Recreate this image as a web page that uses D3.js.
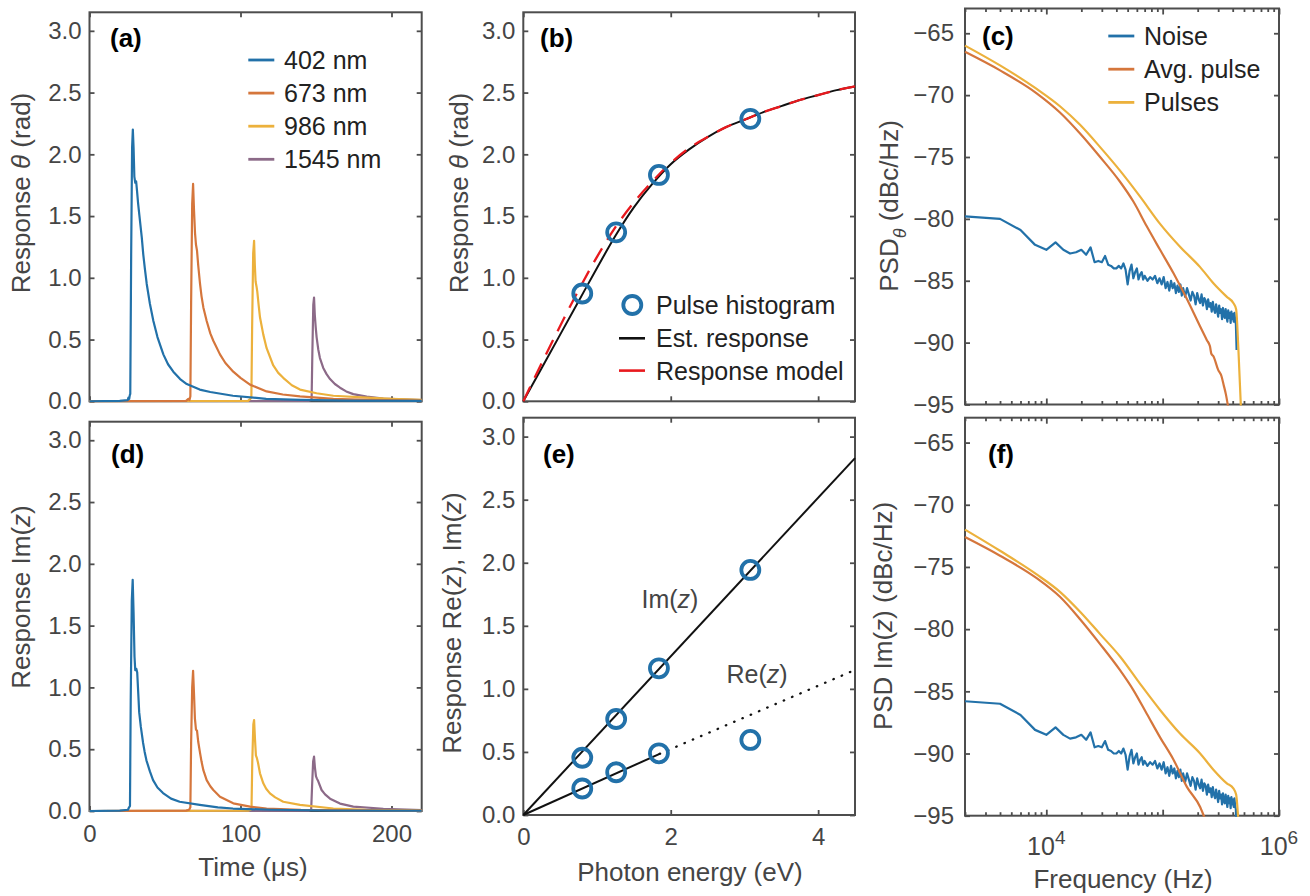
<!DOCTYPE html>
<html><head><meta charset="utf-8">
<script src="https://cdn.jsdelivr.net/npm/d3@7"></script>
<style>
body{margin:0;background:#fff}
svg{display:block}
text{font-family:"Liberation Sans",Arial,Helvetica,sans-serif}
</style>
</head><body>
<svg id="fig" width="1310" height="896"></svg>
<script>
// ---------------- DATA ----------------
const wavelengths = ["402 nm","673 nm","986 nm","1545 nm"];
const waveColors = ["#2271a9","#d5763c","#ecb13c","#8c6a88"];

// Panel (a): phase response theta (rad) vs time (us)
const thA402 = [[0,0],[20,0.003],[25.3,0.01],[25.8,0.03],[26.3,0.02],[26.7,0.05],[27.0,0.06],[27.6,1.2],[28.2,2.05],[28.7,2.2],[29.2,2.05],[29.7,1.82],[30.3,1.77],[30.9,1.78],[31.5,1.7],[32.2,1.6],[33.0,1.51],[34.6,1.33],[35.6,1.19],[36.7,1.07],[37.9,0.95],[40,0.79],[42.3,0.65],[45,0.52],[48.9,0.38],[52,0.3],[55.5,0.24],[60,0.18],[64.4,0.14],[73,0.095],[80,0.075],[95,0.045],[117,0.02],[140,0.012],[170,0.006],[220,0.003]];
const thA673 = [[0,0],[64,0.003],[65.5,0.02],[66.2,0.01],[66.8,0.04],[67.3,0.8],[68.0,1.6],[68.6,1.76],[69.2,1.55],[69.9,1.36],[70.5,1.27],[71.2,1.22],[72,1.1],[73.2,0.95],[74.2,0.85],[75.4,0.76],[77.6,0.65],[80,0.55],[82,0.49],[86.4,0.38],[90,0.31],[95.2,0.24],[100,0.19],[106.3,0.135],[117.3,0.08],[128,0.055],[139.4,0.04],[161.5,0.02],[190,0.01],[220,0.005]];
const thA986 = [[0,0],[105,0.003],[106.5,0.02],[107.2,0.03],[107.7,0.6],[108.4,1.2],[109,1.3],[109.5,1.1],[110,0.97],[110.6,0.93],[111.1,0.89],[112,0.78],[112.9,0.68],[115.1,0.54],[117.3,0.43],[121.7,0.29],[125,0.23],[128.3,0.19],[134,0.13],[139.4,0.095],[150.4,0.065],[161.5,0.045],[183.6,0.03],[200,0.02],[220,0.012]];
const thA1545 = [[0,0],[145,0.003],[146.5,0.01],[147.1,0.02],[147.6,0.4],[148.2,0.78],[148.7,0.84],[149.2,0.7],[149.8,0.6],[150.4,0.52],[151.5,0.42],[152.6,0.35],[154.8,0.27],[157,0.22],[159.3,0.18],[162.5,0.14],[165.9,0.11],[170,0.08],[174.7,0.058],[183.6,0.038],[194.6,0.022],[207,0.015],[220,0.01]];

// Panel (d): Im(z) response vs time (us)
const imA402 = [[0,0],[20,0.003],[25.5,0.01],[26.2,0.03],[26.8,0.04],[27.3,0.9],[28.0,1.7],[28.6,1.87],[29.2,1.6],[29.8,1.25],[30.3,1.14],[31.0,1.15],[31.6,1.12],[32.3,0.95],[32.9,0.8],[34,0.68],[35.5,0.55],[36.5,0.48],[37.7,0.41],[40,0.32],[42.1,0.25],[45,0.19],[48.7,0.145],[54,0.1],[59.7,0.075],[73,0.05],[85,0.03],[95,0.02],[120,0.01],[160,0.004],[220,0.002]];
const imA673 = [[0,0],[64,0.003],[66,0.01],[66.8,0.03],[67.3,0.55],[68,1.0],[68.6,1.135],[69.2,0.95],[69.8,0.75],[70.5,0.66],[71.2,0.65],[72,0.56],[73.2,0.47],[74.2,0.4],[75.4,0.33],[77.6,0.25],[80,0.2],[82,0.17],[86.4,0.116],[95.2,0.062],[106.3,0.035],[117.3,0.02],[140,0.01],[170,0.005],[220,0.002]];
const imA986 = [[0,0],[105,0.003],[106.8,0.01],[107.3,0.03],[107.8,0.4],[108.5,0.7],[109,0.736],[109.6,0.58],[110.2,0.45],[110.8,0.43],[111.6,0.39],[112.9,0.305],[115.1,0.224],[117,0.18],[119.5,0.143],[123,0.11],[128.3,0.075],[139.4,0.049],[161.5,0.02],[183,0.01],[220,0.004]];
const imA1545 = [[0,0],[145,0.002],[146.8,0.01],[147.4,0.2],[148.1,0.4],[148.7,0.44],[149.3,0.35],[150,0.28],[150.7,0.26],[151.5,0.24],[153.7,0.17],[156,0.135],[159.3,0.1],[165.9,0.06],[174.7,0.035],[194.6,0.018],[220,0.008]];

// Panel (b): response vs photon energy
const photonEnergy = [0.80, 1.26, 1.84, 3.08];
const thetaHist = [0.873, 1.368, 1.833, 2.287];
const curveE = [0,0.25,0.5,0.75,1,1.25,1.5,1.75,2,2.25,2.5,2.75,3,3.25,3.5,3.75,4,4.25,4.5];
const estTheta = [0,0.27,0.54,0.81,1.08,1.34,1.57,1.76,1.92,2.04,2.14,2.22,2.28,2.34,2.39,2.44,2.48,2.52,2.55];
const modelTheta = [0,0.31,0.61,0.9,1.17,1.41,1.61,1.78,1.93,2.05,2.14,2.22,2.28,2.34,2.39,2.44,2.48,2.52,2.55];

// Panel (e): Re(z), Im(z) vs photon energy
const imHist = [0.454, 0.761, 1.163, 1.943];
const reHist = [0.21, 0.339, 0.489, 0.595];
const imFitE = [0, 4.5], imFitV = [0, 2.83];
const reFitE = [0, 1.85], reFitV = [0, 0.485];
const reExtE = [1.85, 4.5], reExtV = [0.485, 1.15];

// Panels (c),(f): PSD vs frequency (Hz)
const psdNames = ["Noise","Avg. pulse","Pulses"];
const psdColors = ["#2271a9","#d5763c","#ecb13c"];
const noiseFreqKHz = [2,4,6,8,10,12,14,16,18,20,22,24,26,28,30,32,34,36,38,40,42,44,46,48,50,52,54,56,58,60,62,64,66,68,70,
  74,78,82,86,90,94,98,102,106,110,114,118,122,126,130,134,138,142,146,150,
  156,162,168,174,180,186,192,198,204,210,216,222,228,234,240,246,252,258,264,270,276,282,288,294,300,306,312,318,324,330,336,342,348,354,360,366,372,378,384,390,396,402,408,414,420,426,432];
const noiseTheta = [-79.8,-80.0,-80.9,-82.1,-82.5,-81.9,-82.5,-82.8,-82.7,-82.5,-82.9,-82.3,-83.5,-83.4,-83.5,-83.0,-83.7,-83.8,-84.0,-84.0,-83.8,-84.0,-83.6,-84.1,-85.3,-84.2,-83.7,-84.8,-84.3,-84.0,-84.9,-84.5,-84.3,-84.9,-84.6,
  -85.0,-84.7,-84.9,-84.6,-85.2,-84.8,-85.3,-84.7,-85.6,-85.1,-85.8,-85.0,-85.6,-85.2,-86.0,-85.4,-85.9,-85.3,-86.2,-85.6,
  -86.3,-85.6,-86.1,-86.6,-85.9,-86.2,-86.9,-86.0,-86.5,-86.8,-86.1,-87.0,-86.4,-86.6,-87.3,-86.5,-87.1,-86.8,-87.5,-86.7,-87.3,-87.6,-86.9,-87.4,-87.9,-87.0,-87.6,-87.3,-88.1,-87.2,-87.8,-88.0,-87.3,-87.9,-88.3,-87.4,-88.0,-87.6,-88.4,-87.5,-88.1,-87.7,-88.3,-87.6,-88.2,-88.5,-90.6];
const noiseIm = [-85.8,-86.0,-86.9,-88.1,-88.5,-87.9,-88.5,-88.8,-88.7,-88.5,-88.9,-88.3,-89.5,-89.4,-89.5,-89.0,-89.7,-89.8,-90.0,-90.0,-89.8,-90.0,-89.6,-90.1,-91.3,-90.2,-89.7,-90.8,-90.3,-90.0,-90.9,-90.5,-90.3,-90.9,-90.6,
  -91.0,-90.7,-90.9,-90.6,-91.2,-90.8,-91.3,-90.7,-91.6,-91.1,-91.8,-91.0,-91.6,-91.2,-92.0,-91.4,-91.9,-91.3,-92.2,-91.6,
  -92.3,-91.6,-92.1,-92.6,-91.9,-92.2,-92.9,-92.0,-92.5,-92.8,-92.1,-93.0,-92.4,-92.6,-93.3,-92.5,-93.1,-92.8,-93.5,-92.7,-93.3,-93.6,-92.9,-93.4,-93.9,-93.0,-93.6,-93.3,-94.1,-93.2,-93.8,-94.0,-93.3,-93.9,-94.3,-93.4,-94.0,-93.6,-94.4,-93.5,-94.1,-93.7,-94.3,-93.6,-94.2,-94.5,-96.5];
const avgTheta = [[2000,-66.5],[4000,-68.0],[8260,-69.85],[13100,-71.4],[19500,-73.1],[29000,-75.0],[43000,-77.0],[56000,-78.6],[73000,-80.6],[95000,-82.5],[124000,-84.4],[162000,-86.5],[210000,-88.7],[240000,-89.8],[255000,-90.3],[262000,-90.9],[273000,-91.1],[300000,-92.2],[320000,-92.7],[334000,-93.4],[350000,-94.2],[367000,-95.3]];
const pulsesTheta = [[2000,-66.0],[4000,-67.6],[8260,-69.5],[13100,-70.9],[19500,-72.4],[29000,-74.2],[43000,-76.1],[64000,-78.2],[95000,-80.4],[141000,-82.25],[210000,-83.9],[273000,-85.2],[356000,-86.3],[405000,-86.8],[428000,-87.3],[448000,-90.6],[472000,-95.5]];
const avgIm = [[2000,-72.6],[4000,-74.1],[8260,-75.9],[13100,-77.4],[19500,-79.2],[29000,-81.2],[43000,-83.3],[56000,-84.9],[73000,-86.8],[95000,-88.7],[124000,-90.5],[162000,-92.7],[210000,-94.3],[232000,-95.3]];
const pulsesIm = [[2000,-72.0],[4000,-73.7],[8260,-75.6],[13100,-77.0],[19500,-78.6],[29000,-80.4],[43000,-82.2],[64000,-84.4],[95000,-86.5],[141000,-88.4],[210000,-90.0],[273000,-91.3],[356000,-92.4],[405000,-92.8],[428000,-93.3],[448000,-95.5]];

const linTicks = [0,0.5,1,1.5,2,2.5,3];
const timeTicks = [0,100,200];
const energyTicks = [0,2,4];
const psdTicks = [-95,-90,-85,-80,-75,-70,-65];

// ---------------- DRAW ----------------
const svg = d3.select("#fig");
const FRAME = "#4d4d4d", TXT = "#454545";
const G = {
  a:{l:89.5,r:421.7,t:12.3,b:401.3},
  b:{l:523.3,r:855,t:12.3,b:401.3},
  c:{l:965,r:1279,t:8.5,b:404.5},
  d:{l:89.5,r:421.7,t:421.7,b:811},
  e:{l:523.3,r:855,t:417.7,b:815},
  f:{l:965,r:1279,t:417.7,b:815.7}
};

function styleAxis(g, fs){
  g.select(".domain").remove();
  g.selectAll(".tick line").attr("stroke",FRAME).attr("stroke-width",1.8);
  g.selectAll(".tick text").attr("fill",TXT).style("font-size",fs+"px").attr("font-family",null);
}

function axes(key, xs, ys, o){
  const p = G[key];
  const gl = svg.append("g").attr("transform",`translate(${p.l},0)`)
    .call(d3.axisLeft(ys).tickValues(o.yt).tickSizeInner(-5).tickSizeOuter(0).tickPadding(o.ypad||8).tickFormat(o.yf));
  styleAxis(gl,24);
  const gr = svg.append("g").attr("transform",`translate(${p.r},0)`)
    .call(d3.axisRight(ys).tickValues(o.yt).tickSizeInner(-5).tickSizeOuter(0).tickFormat(()=>""));
  styleAxis(gr,24);
  const xt = o.xt;
  const gt = svg.append("g").attr("transform",`translate(0,${p.t})`)
    .call(d3.axisTop(xs).tickValues(xt).tickSizeInner(-5).tickSizeOuter(0).tickFormat(()=>""));
  styleAxis(gt,24);
  const gb = svg.append("g").attr("transform",`translate(0,${p.b})`)
    .call(d3.axisBottom(xs).tickValues(xt).tickSizeInner(-5).tickSizeOuter(0).tickPadding(o.xpad||13)
      .tickFormat(o.xlabels ? (o.xf||d3.format("d")) : ()=>""));
  styleAxis(gb,24);
  if(o.log){
    [gt,gb].forEach((g,i)=>{
      g.selectAll(".tick line").attr("y2", d=>{
        const major = Math.abs(Math.log10(d)-Math.round(Math.log10(d)))<1e-9;
        const len = major?6:3.5;
        return i===0 ? len : -len;
      });
    });
  }
  svg.append("rect").attr("x",p.l).attr("y",p.t).attr("width",p.r-p.l).attr("height",p.b-p.t)
    .attr("fill","none").attr("stroke",FRAME).attr("stroke-width",2);
  svg.append("clipPath").attr("id","clip-"+key).append("rect")
    .attr("x",p.l-1).attr("y",p.t-1).attr("width",p.r-p.l+2).attr("height",p.b-p.t+2);
  return svg.append("g").attr("clip-path",`url(#clip-${key})`);
}

function panelLabel(txt,x,y){
  svg.append("text").attr("x",x).attr("y",y).text(txt)
    .style("font-size","26px").style("font-weight","bold").attr("fill","#000");
}

function yLabel(x,cy,parts){
  const t = svg.append("text").attr("transform",`translate(${x},${cy}) rotate(-90)`)
    .attr("text-anchor","middle").style("font-size","26px").attr("fill",TXT);
  parts.forEach(pt=>{
    const s = t.append("tspan").text(pt.t);
    if(pt.i) s.style("font-style","italic");
    if(pt.sub) s.style("font-size","18px").attr("dy",8);
    if(pt.back) s.attr("dy",-8);
  });
}
function xLabel(cx,y,txt){
  svg.append("text").attr("x",cx).attr("y",y).attr("text-anchor","middle")
    .style("font-size","26px").attr("fill",TXT).text(txt);
}

// ----- (a) & (d)
const xTime = d3.scaleLinear().domain([0,220]).range([G.a.l,G.a.r]);
const yA = d3.scaleLinear().domain([0,3.15]).range([G.a.b,G.a.t]);
const yD = d3.scaleLinear().domain([0,3.15]).range([G.d.b,G.d.t]);
const gA = axes("a", xTime, yA, {yt:linTicks, yf:d3.format(".1f"), xt:timeTicks, xlabels:false});
const gD = axes("d", xTime, yD, {yt:linTicks, yf:d3.format(".1f"), xt:timeTicks, xlabels:true, xpad:14});

const thSeries = [thA402, thA673, thA986, thA1545];
const imSeries = [imA402, imA673, imA986, imA1545];
const lineA = d3.line().x(d=>xTime(d[0])).y(d=>yA(d[1]));
const lineD = d3.line().x(d=>xTime(d[0])).y(d=>yD(d[1]));
[3,2,1,0].forEach(i=>{
  gA.append("path").attr("d",lineA(thSeries[i])).attr("fill","none").attr("stroke",waveColors[i]).attr("stroke-width",2.2).attr("stroke-linejoin","round");
  gD.append("path").attr("d",lineD(imSeries[i])).attr("fill","none").attr("stroke",waveColors[i]).attr("stroke-width",2.2).attr("stroke-linejoin","round");
});
wavelengths.forEach((w,i)=>{
  const y = 60 + i*33.1;
  svg.append("line").attr("x1",248.3).attr("x2",274.3).attr("y1",y).attr("y2",y).attr("stroke",waveColors[i]).attr("stroke-width",2.8);
  svg.append("text").attr("x",284).attr("y",y).attr("dy","0.36em").text(w).style("font-size","25px").attr("fill","#222");
});
panelLabel("(a)",110,47);
panelLabel("(d)",111,463);
yLabel(30,193,[{t:"Response "},{t:"θ",i:true},{t:" (rad)"}]);
yLabel(30,597,[{t:"Response Im("},{t:"z",i:true},{t:")"}]);
xLabel(253,876,"Time (μs)");

// ----- (b) & (e)
const xE = d3.scaleLinear().domain([0,4.5]).range([G.b.l,G.b.r]);
const yB = d3.scaleLinear().domain([0,3.15]).range([G.b.b,G.b.t]);
const yE = d3.scaleLinear().domain([0,3.15]).range([G.e.b,G.e.t]);
const gB = axes("b", xE, yB, {yt:linTicks, yf:d3.format(".1f"), xt:energyTicks, xlabels:false});
const gE = axes("e", xE, yE, {yt:linTicks, yf:d3.format(".1f"), xt:energyTicks, xlabels:true, xpad:13});

const lineB = d3.line().x((d,i)=>xE(curveE[i])).y(d=>yB(d)).curve(d3.curveMonotoneX);
gB.append("path").attr("d",lineB(estTheta)).attr("fill","none").attr("stroke","#111").attr("stroke-width",2);
gB.append("path").attr("d",lineB(modelTheta)).attr("fill","none").attr("stroke","#e8191e").attr("stroke-width",2.3).attr("stroke-dasharray","16,10");
gB.selectAll("circle.h").data(photonEnergy).enter().append("circle")
  .attr("cx",d=>xE(d)).attr("cy",(d,i)=>yB(thetaHist[i])).attr("r",9)
  .attr("fill","none").attr("stroke","#2271a9").attr("stroke-width",3.8);
svg.append("circle").attr("cx",632.3).attr("cy",305).attr("r",9).attr("fill","none").attr("stroke","#2271a9").attr("stroke-width",3.8);
svg.append("line").attr("x1",619).attr("x2",645).attr("y1",338.3).attr("y2",338.3).attr("stroke","#111").attr("stroke-width",2.6);
svg.append("line").attr("x1",619).attr("x2",645).attr("y1",370.6).attr("y2",370.6).attr("stroke","#e8191e").attr("stroke-width",2.6);
[["Pulse histogram",305],["Est. response",338.3],["Response model",370.6]].forEach(l=>{
  svg.append("text").attr("x",656).attr("y",l[1]).attr("dy","0.36em").text(l[0]).style("font-size","25px").attr("fill","#222");
});

const lineE = d3.line().x(d=>xE(d[0])).y(d=>yE(d[1]));
gE.append("path").attr("d",lineE(d3.zip(imFitE,imFitV))).attr("fill","none").attr("stroke","#111").attr("stroke-width",2);
gE.append("path").attr("d",lineE(d3.zip(reFitE,reFitV))).attr("fill","none").attr("stroke","#111").attr("stroke-width",2);
gE.append("path").attr("d",lineE(d3.zip(reExtE,reExtV))).attr("fill","none").attr("stroke","#111").attr("stroke-width",2.3).attr("stroke-linecap","round").attr("stroke-dasharray","0.5,8.5");
photonEnergy.forEach((e,i)=>{
  [imHist[i],reHist[i]].forEach(v=>{
    gE.append("circle").attr("cx",xE(e)).attr("cy",yE(v)).attr("r",9)
      .attr("fill","none").attr("stroke","#2271a9").attr("stroke-width",3.8);
  });
});
function annot(x,y,a,b){
  const t = svg.append("text").attr("x",x).attr("y",y).style("font-size","25px").attr("fill",TXT);
  t.append("tspan").text(a); t.append("tspan").text("z").style("font-style","italic"); t.append("tspan").text(b);
}
annot(641.5,608,"Im(",")");
annot(726.5,683,"Re(",")");
panelLabel("(b)",540,47);
panelLabel("(e)",543,463);
yLabel(468,193,[{t:"Response "},{t:"θ",i:true},{t:" (rad)"}]);
yLabel(461,623,[{t:"Response Re("},{t:"z",i:true},{t:"), Im("},{t:"z",i:true},{t:")"}]);
xLabel(690,881,"Photon energy (eV)");

// ----- (c) & (f)
const xF = d3.scaleLog().domain([2000,1e6]).range([G.c.l,G.c.r]);
const logTicks = xF.ticks();
const yC = d3.scaleLinear().domain([-95,-63]).range([G.c.b,G.c.t]);
const yF = d3.scaleLinear().domain([-95,-63]).range([G.f.b,G.f.t]);
const gC = axes("c", xF, yC, {yt:psdTicks, yf:d3.format("d"), xt:logTicks, xlabels:false, log:true, ypad:11});
const gF = axes("f", xF, yF, {yt:psdTicks, yf:d3.format("d"), xt:logTicks, xlabels:false, log:true, ypad:11});

const noiseC = noiseFreqKHz.map((f,i)=>[f*1000, noiseTheta[i]]);
const noiseF = noiseFreqKHz.map((f,i)=>[f*1000, noiseIm[i]]);
const lineC = d3.line().x(d=>xF(d[0])).y(d=>yC(d[1]));
const lineF = d3.line().x(d=>xF(d[0])).y(d=>yF(d[1]));
const lineCs = d3.line().x(d=>xF(d[0])).y(d=>yC(d[1])).curve(d3.curveMonotoneX);
const lineFs = d3.line().x(d=>xF(d[0])).y(d=>yF(d[1])).curve(d3.curveMonotoneX);
gC.append("path").attr("d",lineC(noiseC)).attr("fill","none").attr("stroke",psdColors[0]).attr("stroke-width",2.2).attr("stroke-linejoin","round");
gC.append("path").attr("d",lineCs(avgTheta)).attr("fill","none").attr("stroke",psdColors[1]).attr("stroke-width",2.2);
gC.append("path").attr("d",lineCs(pulsesTheta)).attr("fill","none").attr("stroke",psdColors[2]).attr("stroke-width",2.2);
gF.append("path").attr("d",lineF(noiseF)).attr("fill","none").attr("stroke",psdColors[0]).attr("stroke-width",2.2).attr("stroke-linejoin","round");
gF.append("path").attr("d",lineFs(avgIm)).attr("fill","none").attr("stroke",psdColors[1]).attr("stroke-width",2.2);
gF.append("path").attr("d",lineFs(pulsesIm)).attr("fill","none").attr("stroke",psdColors[2]).attr("stroke-width",2.2);
psdNames.forEach((n,i)=>{
  const y = 36 + i*33.2;
  svg.append("line").attr("x1",1108.3).attr("x2",1134.3).attr("y1",y).attr("y2",y).attr("stroke",psdColors[i]).attr("stroke-width",2.8);
  svg.append("text").attr("x",1144).attr("y",y).attr("dy","0.36em").text(n).style("font-size","25px").attr("fill","#222");
});
[[1e4,"4"],[1e6,"6"]].forEach(l=>{
  const t = svg.append("text").attr("x",xF(l[0])).attr("y",855).attr("text-anchor","middle")
    .style("font-size","25px").attr("fill",TXT);
  t.append("tspan").text("10");
  t.append("tspan").text(l[1]).attr("dy",-11).style("font-size","19px");
});
panelLabel("(c)",982,45);
panelLabel("(f)",988,463);
yLabel(898,206,[{t:"PSD"},{t:"θ",i:true,sub:true},{t:" (dBc/Hz)",back:true}]);
yLabel(892,616,[{t:"PSD Im("},{t:"z",i:true},{t:") (dBc/Hz)"}]);
xLabel(1123,888,"Frequency (Hz)");
</script>
</body></html>
